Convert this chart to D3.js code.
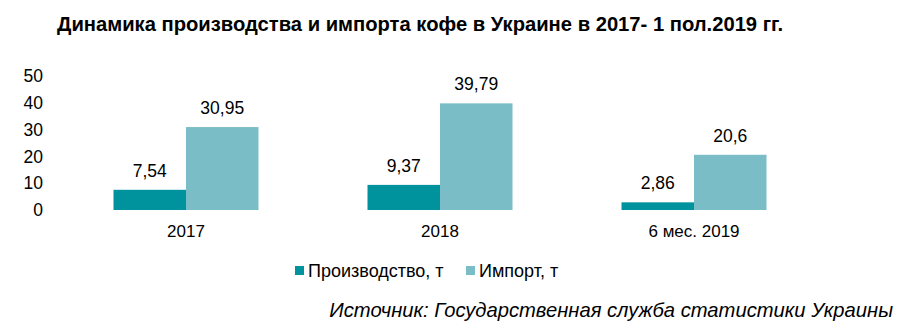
<!DOCTYPE html>
<html>
<head>
<meta charset="utf-8">
<script src="https://cdn.jsdelivr.net/npm/d3@7"></script>
<style>
  html, body { margin: 0; padding: 0; background: #fff; }
  svg { display: block; font-family: "Liberation Sans", Arial, sans-serif; }
</style>
</head>
<body>
<svg id="chart" width="903" height="331"></svg>
<script>
// Coffee production and import in Ukraine, thousand tonnes
const categories = ["2017", "2018", "6 мес. 2019"];
const production = [7.54, 9.37, 2.86];
const imports = [30.95, 39.79, 20.6];
const seriesNames = ["Производство, т", "Импорт, т"];
const yTicks = [0, 10, 20, 30, 40, 50];
const titleText = "Динамика производства и импорта кофе в Украине в 2017- 1 пол.2019 гг.";
const sourceText = "Источник: Государственная служба статистики Украины";

const colors = ["#00939e", "#7bbdc6"];
const svg = d3.select("#chart");

const x = d3.scaleBand().domain(categories).range([59, 821]).paddingInner(0).paddingOuter(0);
const y = d3.scaleLinear().domain([0, 50]).range([210, 76]);
const groupWidth = 145;
const sub = d3.scaleBand().domain([0, 1]).range([0, groupWidth]);

const fmt = v => String(v).replace(".", ",");

// title
svg.append("text")
  .attr("x", 57).attr("y", 31)
  .attr("font-size", 20.2).attr("font-weight", "bold").attr("fill", "#000")
  .text(titleText);

// y axis labels (no axis line)
const yAxis = d3.axisLeft(y).tickValues(yTicks).tickSize(0).tickPadding(0);
const gy = svg.append("g").attr("transform", "translate(43,0)").call(yAxis);
gy.select(".domain").remove();
gy.selectAll("text").attr("font-size", 17.5).attr("fill", "#000")
  .attr("font-family", "Liberation Sans, Arial, sans-serif");

// category labels
const xAxis = d3.axisBottom(x).tickSize(0).tickPadding(0);
const gx = svg.append("g").attr("transform", "translate(0,225)").call(xAxis);
gx.select(".domain").remove();
gx.selectAll("text").attr("font-size", 17).attr("fill", "#000")
  .attr("font-family", "Liberation Sans, Arial, sans-serif");

const series = [production, imports];
series.forEach((vals, si) => {
  const g = svg.append("g");
  g.selectAll("rect").data(vals).join("rect")
    .attr("x", (d, i) => x(categories[i]) + (x.bandwidth() - groupWidth) / 2 + sub(si))
    .attr("y", d => y(d))
    .attr("width", sub.bandwidth())
    .attr("height", d => y(0) - y(d))
    .attr("fill", colors[si]);
  g.selectAll("text").data(vals).join("text")
    .attr("x", (d, i) => x(categories[i]) + (x.bandwidth() - groupWidth) / 2 + sub(si) + sub.bandwidth() / 2)
    .attr("y", d => y(d) - 13)
    .attr("text-anchor", "middle")
    .attr("font-size", 17.5).attr("fill", "#000")
    .text(d => fmt(d));
});

// legend
const legendX = [295, 466];
seriesNames.forEach((name, i) => {
  svg.append("rect").attr("x", legendX[i]).attr("y", 266).attr("width", 9).attr("height", 9).attr("fill", colors[i]);
  svg.append("text").attr("x", legendX[i] + 13).attr("y", 277)
    .attr("font-size", 18).attr("fill", "#000").text(name);
});

// source note
svg.append("text")
  .attr("x", 893).attr("y", 317).attr("text-anchor", "end")
  .attr("font-size", 20.2).attr("font-style", "italic").attr("fill", "#000")
  .text(sourceText);
</script>
</body>
</html>
